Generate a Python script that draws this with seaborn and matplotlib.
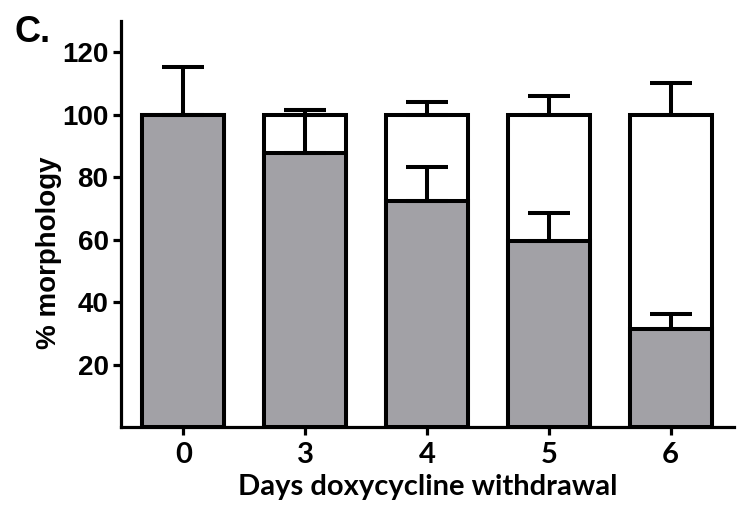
import numpy as np
import pandas as pd
import matplotlib
matplotlib.use("Agg")
import matplotlib.pyplot as plt
import seaborn as sns

# data
days = ["0", "3", "4", "5", "6"]
total = [100, 100, 100, 100, 100]
total_err = [np.nan, 1.5, 4.2, 6.1, 10.3]
gray = [100, 87.7, 72.3, 59.7, 31.3]
gray_err = [15.2, 13.9, 10.9, 9.0, 4.8]

df = pd.DataFrame({"day": days, "total": total, "gray": gray})

sns.set_style("ticks")
plt.rcParams["font.family"] = ["Liberation Sans", "DejaVu Sans"]
plt.rcParams["text.color"] = "black"
plt.rcParams["axes.labelcolor"] = "black"
plt.rcParams["xtick.color"] = "black"
plt.rcParams["ytick.color"] = "black"
plt.rcParams["axes.edgecolor"] = "black"

fig = plt.figure(figsize=(7.43, 5.11), dpi=100)
ax = fig.add_axes([0.163, 0.164, 0.825, 0.795])

lw = 2.9
sns.barplot(data=df, x="day", y="total", color="white", edgecolor="black",
            linewidth=lw, width=0.67, saturation=1, ax=ax, zorder=2)
sns.barplot(data=df, x="day", y="gray", color="#a2a1a6", edgecolor="black",
            linewidth=lw, width=0.67, saturation=1, ax=ax, zorder=3)

x = np.arange(len(days))
te = np.array(total_err)
m = ~np.isnan(te)
ax.errorbar(x[m], np.array(total)[m], yerr=[np.zeros(m.sum()), te[m]],
            fmt="none", ecolor="black", elinewidth=lw, capsize=15, capthick=lw, zorder=4)
ax.errorbar(x, gray, yerr=[np.zeros(len(x)), gray_err],
            fmt="none", ecolor="black", elinewidth=lw, capsize=15, capthick=lw, zorder=4)

ax.set_xlim(-0.51, 4.52)
ax.set_ylim(0, 130)
ax.set_yticks([20, 40, 60, 80, 100, 120])
sns.despine(ax=ax)
for s in ["left", "bottom"]:
    ax.spines[s].set_linewidth(2.3)
    ax.spines[s].set_color("black")
ax.tick_params(axis="both", width=2.3, length=6, direction="out", colors="black")
ax.tick_params(axis="y", labelsize=20, pad=3)
for t in ax.get_yticklabels():
    t.set_fontweight("bold")
    t.set_family(["Liberation Sans", "DejaVu Sans"])
ax.tick_params(axis="x", labelsize=21, pad=5)
for t in ax.get_xticklabels():
    t.set_fontweight("bold")
    t.set_family(["Lato", "DejaVu Sans"])

ax.set_xlabel("Days doxycycline withdrawal", fontsize=21, fontweight="bold",
              family=["Lato", "DejaVu Sans"], labelpad=4)
ax.set_ylabel("% morphology", fontsize=20, fontweight="bold",
              family=["Liberation Sans", "DejaVu Sans"])
ax.yaxis.set_label_coords(-0.096, 0.43)

fig.text(0.02, 0.97, "C.", fontsize=26, fontweight="bold", va="top", ha="left",
         family=["Liberation Sans", "DejaVu Sans"])

fig.savefig("out.png", dpi=100)
